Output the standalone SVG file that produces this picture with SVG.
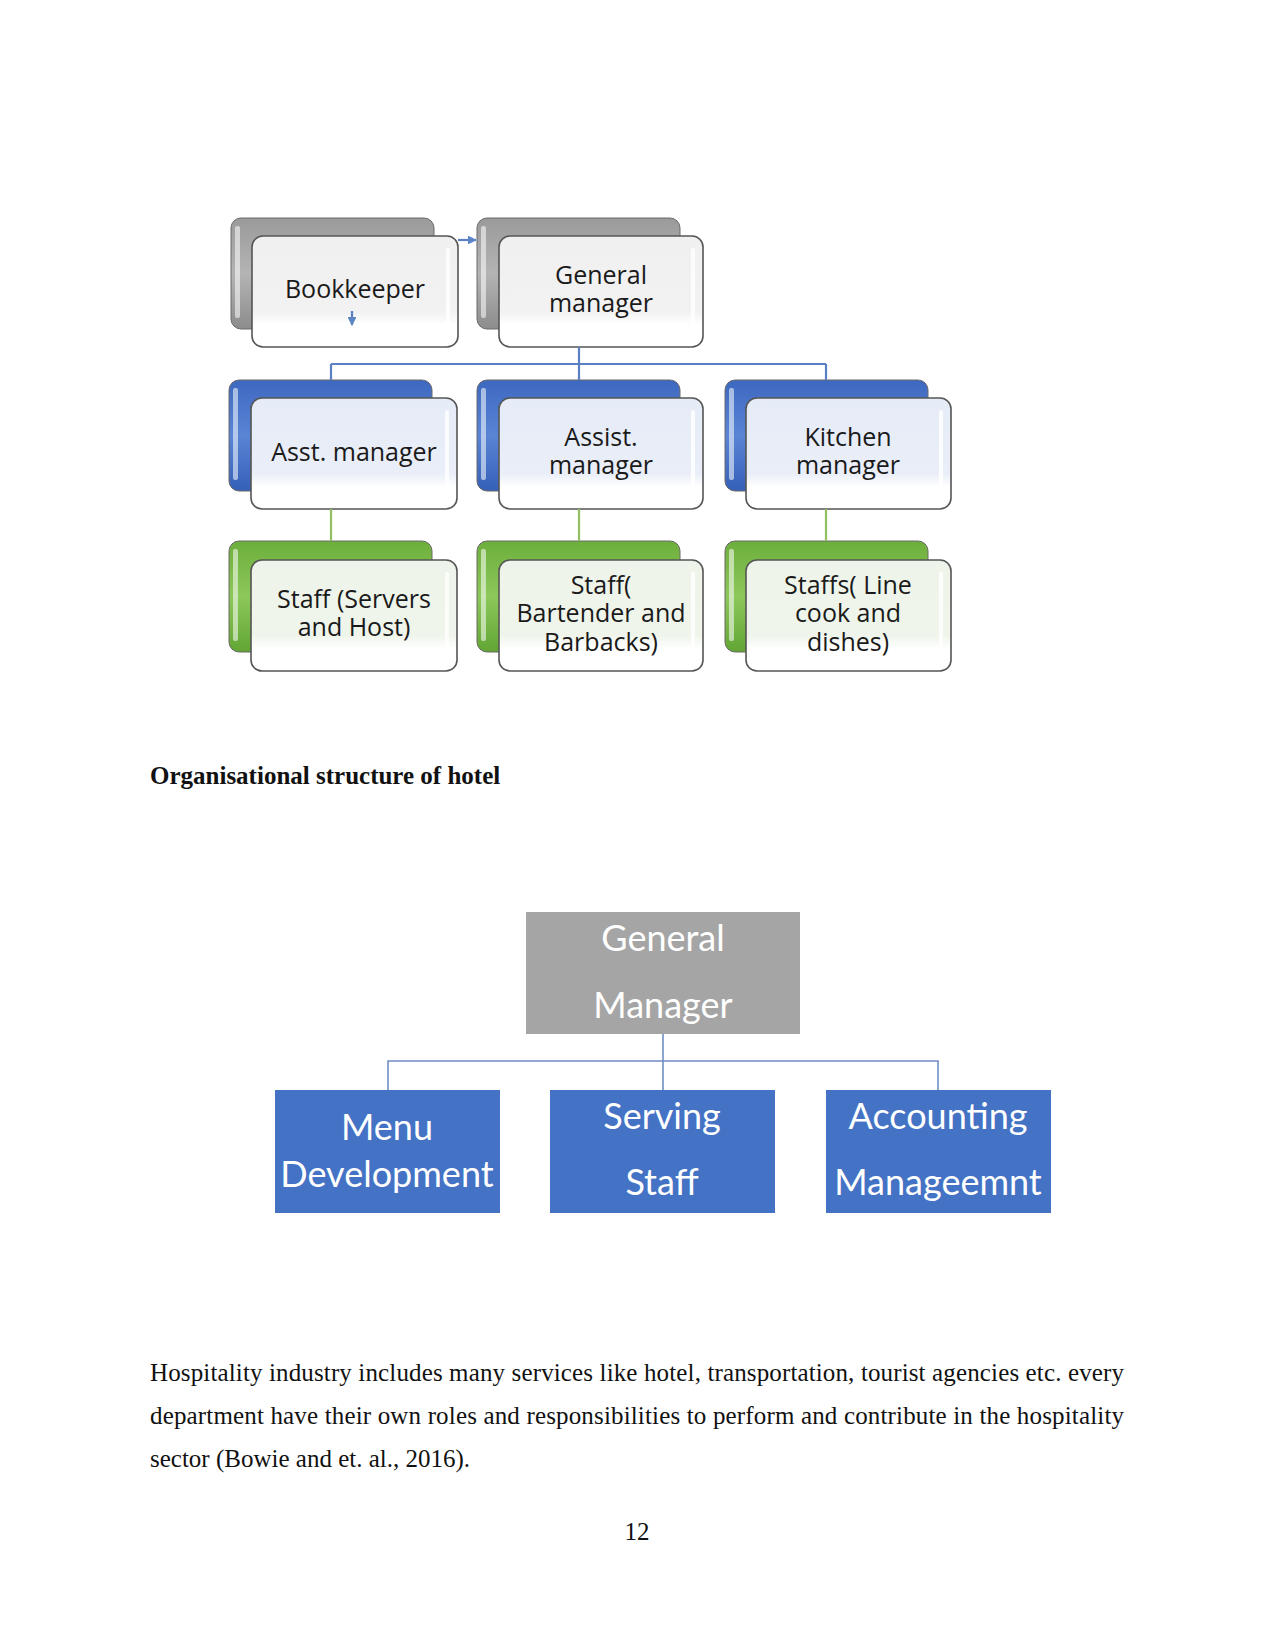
<svg xmlns="http://www.w3.org/2000/svg" width="1275" height="1650" viewBox="0 0 1275 1650">
<defs>
<linearGradient id="gGray" x1="0" y1="0" x2="0" y2="1"><stop offset="0" stop-color="#9a9a9a"/><stop offset="0.5" stop-color="#b4b4b4"/><stop offset="1" stop-color="#8c8c8c"/></linearGradient>
<linearGradient id="gBlue" x1="0" y1="0" x2="0" y2="1"><stop offset="0" stop-color="#3d68c0"/><stop offset="0.5" stop-color="#5a84d4"/><stop offset="1" stop-color="#3560b8"/></linearGradient>
<linearGradient id="gGreen" x1="0" y1="0" x2="0" y2="1"><stop offset="0" stop-color="#6cae3c"/><stop offset="0.5" stop-color="#8cc85a"/><stop offset="1" stop-color="#62a534"/></linearGradient>
<linearGradient id="fGray" x1="0" y1="0" x2="0" y2="1"><stop offset="0" stop-color="#f0f0f0"/><stop offset="0.68" stop-color="#f2f2f2"/><stop offset="0.8" stop-color="#ffffff"/><stop offset="1" stop-color="#ffffff"/></linearGradient>
<linearGradient id="fBlue" x1="0" y1="0" x2="0" y2="1"><stop offset="0" stop-color="#e6ecf7"/><stop offset="0.68" stop-color="#e9eef8"/><stop offset="0.8" stop-color="#ffffff"/><stop offset="1" stop-color="#ffffff"/></linearGradient>
<linearGradient id="fGreen" x1="0" y1="0" x2="0" y2="1"><stop offset="0" stop-color="#eef4ea"/><stop offset="0.68" stop-color="#eff5eb"/><stop offset="0.8" stop-color="#ffffff"/><stop offset="1" stop-color="#ffffff"/></linearGradient>
<marker id="arr" viewBox="0 0 10 10" refX="9" refY="5" markerWidth="4" markerHeight="4" orient="auto"><path d="M0,0 L10,5 L0,10 z" fill="#5b86c5"/></marker>
</defs>
<style>
.back{stroke:#6a6a6a;stroke-width:1}
.hl{fill:#ffffff;opacity:0.55}
.front{stroke:#555555;stroke-width:1.6}
.shine{fill:#ffffff;opacity:0.8}
.t1{font-family:"Open Sans","Noto Sans",sans-serif;font-size:25px;fill:#1a1a1a;text-anchor:middle}
.c1b{stroke:#5b7fc3;stroke-width:2.2;fill:none}
.c1g{stroke:#93bf63;stroke-width:2.2;fill:none}
.c2{stroke:#6f8fc5;stroke-width:1.6;fill:none}
.box2{fill:#4472c4}
.t2{font-family:Lato,"Open Sans",sans-serif;font-size:36px;fill:#ffffff;text-anchor:middle}
.serif{font-family:"Liberation Serif","Times New Roman",serif;font-size:25px;fill:#111111}
</style>
<rect width="1275" height="1650" fill="#ffffff"/>

<g id="bookkeeper">
<rect class="back" x="231" y="218" width="203" height="111" rx="10" fill="url(#gGray)"/>
<rect class="hl" x="235" y="226" width="5" height="92" rx="2"/>
<rect class="front" x="252" y="236" width="206" height="111" rx="11" fill="url(#fGray)"/>
<rect class="shine" x="446" y="248" width="4" height="78" rx="2"/>
<text class="t1" x="355" y="298">Bookkeeper</text>
</g>

<g id="general-manager-1">
<rect class="back" x="477" y="218" width="203" height="111" rx="10" fill="url(#gGray)"/>
<rect class="hl" x="481" y="226" width="5" height="92" rx="2"/>
<rect class="front" x="499" y="236" width="204" height="111" rx="11" fill="url(#fGray)"/>
<rect class="shine" x="691" y="248" width="4" height="78" rx="2"/>
<text class="t1" x="601" y="284">General</text>
<text class="t1" x="601" y="312">manager</text>
</g>

<g id="asst-manager">
<rect class="back" x="229" y="380" width="203" height="111" rx="10" fill="url(#gBlue)"/>
<rect class="hl" x="233" y="388" width="5" height="92" rx="2"/>
<rect class="front" x="251" y="398" width="206" height="111" rx="11" fill="url(#fBlue)"/>
<rect class="shine" x="445" y="410" width="4" height="78" rx="2"/>
<text class="t1" x="354" y="461">Asst. manager</text>
</g>

<g id="assist-manager">
<rect class="back" x="477" y="380" width="203" height="111" rx="10" fill="url(#gBlue)"/>
<rect class="hl" x="481" y="388" width="5" height="92" rx="2"/>
<rect class="front" x="499" y="398" width="204" height="111" rx="11" fill="url(#fBlue)"/>
<rect class="shine" x="691" y="410" width="4" height="78" rx="2"/>
<text class="t1" x="601" y="446">Assist.</text>
<text class="t1" x="601" y="474">manager</text>
</g>

<g id="kitchen-manager">
<rect class="back" x="725" y="380" width="203" height="111" rx="10" fill="url(#gBlue)"/>
<rect class="hl" x="729" y="388" width="5" height="92" rx="2"/>
<rect class="front" x="746" y="398" width="205" height="111" rx="11" fill="url(#fBlue)"/>
<rect class="shine" x="939" y="410" width="4" height="78" rx="2"/>
<text class="t1" x="848" y="446">Kitchen</text>
<text class="t1" x="848" y="474">manager</text>
</g>

<g id="staff-servers">
<rect class="back" x="229" y="541" width="203" height="111" rx="10" fill="url(#gGreen)"/>
<rect class="hl" x="233" y="549" width="5" height="92" rx="2"/>
<rect class="front" x="251" y="560" width="206" height="111" rx="11" fill="url(#fGreen)"/>
<rect class="shine" x="445" y="572" width="4" height="78" rx="2"/>
<text class="t1" x="354" y="608">Staff (Servers</text>
<text class="t1" x="354" y="636">and Host)</text>
</g>

<g id="staff-bartender">
<rect class="back" x="477" y="541" width="203" height="111" rx="10" fill="url(#gGreen)"/>
<rect class="hl" x="481" y="549" width="5" height="92" rx="2"/>
<rect class="front" x="499" y="560" width="204" height="111" rx="11" fill="url(#fGreen)"/>
<rect class="shine" x="691" y="572" width="4" height="78" rx="2"/>
<text class="t1" x="601" y="594">Staff(</text>
<text class="t1" x="601" y="622">Bartender and</text>
<text class="t1" x="601" y="651">Barbacks)</text>
</g>

<g id="staffs-line-cook">
<rect class="back" x="725" y="541" width="203" height="111" rx="10" fill="url(#gGreen)"/>
<rect class="hl" x="729" y="549" width="5" height="92" rx="2"/>
<rect class="front" x="746" y="560" width="205" height="111" rx="11" fill="url(#fGreen)"/>
<rect class="shine" x="939" y="572" width="4" height="78" rx="2"/>
<text class="t1" x="848" y="594">Staffs( Line</text>
<text class="t1" x="848" y="622">cook and</text>
<text class="t1" x="848" y="651">dishes)</text>
</g>

<g id="general-manager-2">
<rect x="526" y="912" width="274" height="122" fill="#a5a5a5"/>
<text class="t2" x="663" y="951">General</text>
<text class="t2" x="663" y="1018">Manager</text>
</g>

<g id="menu-development">
<rect class="box2" x="275" y="1090" width="225" height="123"/>
<text class="t2" x="387" y="1140">Menu</text>
<text class="t2" x="387" y="1187">Development</text>
</g>

<g id="serving-staff">
<rect class="box2" x="550" y="1090" width="225" height="123"/>
<text class="t2" x="662" y="1129">Serving</text>
<text class="t2" x="662" y="1195">Staff</text>
</g>

<g id="accounting-management">
<rect class="box2" x="826" y="1090" width="225" height="123"/>
<text class="t2" x="938" y="1129">Accounting</text>
<text class="t2" x="938" y="1195">Manageemnt</text>
</g>

<g id="connectors">
<line class="c1b" x1="458" y1="240" x2="476" y2="240" marker-end="url(#arr)"/>
<line class="c1b" x1="352" y1="311" x2="352" y2="325" marker-end="url(#arr)"/>
<path class="c1b" d="M579,347 V364 M331,364 H826 M331,364 V380 M579,364 V380 M826,364 V380"/>
<path class="c1g" d="M331,509 V541 M579,509 V541 M826,509 V541"/>
<path class="c2" d="M663,1034 V1090 M388,1090 V1061 H938 V1090"/>
</g>

<text class="serif" x="150" y="784" font-weight="bold">Organisational structure of hotel</text>

<text class="serif" x="150" y="1381" textLength="974" lengthAdjust="spacing">Hospitality industry includes many services like hotel, transportation, tourist agencies etc. every</text>
<text class="serif" x="150" y="1424" textLength="974" lengthAdjust="spacing">department have their own roles and responsibilities to perform and contribute in the hospitality</text>
<text class="serif" x="150" y="1467">sector (Bowie and et. al., 2016).</text>
<text class="serif" x="637" y="1540" text-anchor="middle">12</text>
</svg>
